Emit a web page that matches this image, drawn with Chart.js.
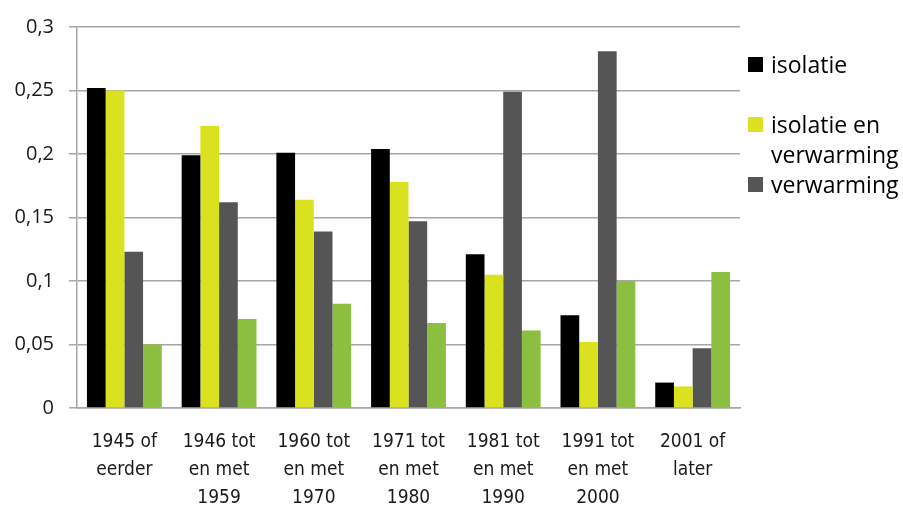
<!DOCTYPE html>
<html>
<head>
<meta charset="utf-8">
<script src="https://cdn.jsdelivr.net/npm/chart.js@4"></script>
<style>
  body { margin: 0; background: #fff; }
  #wrap { position: relative; width: 903px; height: 507px; }
  #legend { position: absolute; left: 748px; top: 0; font-family: "Open Sans", sans-serif; font-size: 23px; color: #000; }
  .item { position: absolute; left: 0; white-space: nowrap; line-height: 30px; }
  .box { position: absolute; left: 0; top: 8px; width: 15px; height: 15px; }
  .txt { position: absolute; left: 23px; top: 0; }
</style>
</head>
<body>
<div id="wrap">
  <canvas id="chart" width="903" height="507"></canvas>
  <div id="legend"></div>
</div>
<script>
// Data
const categories = [
    ['1945 of', 'eerder'],
    ['1946 tot', 'en met', '1959'],
    ['1960 tot', 'en met', '1970'],
    ['1971 tot', 'en met', '1980'],
    ['1981 tot', 'en met', '1990'],
    ['1991 tot', 'en met', '2000'],
    ['2001 of', 'later']
];
const isolatie = [0.252, 0.199, 0.201, 0.204, 0.121, 0.073, 0.020];
const isolatieEnVerwarming = [0.250, 0.222, 0.164, 0.178, 0.105, 0.052, 0.017];
const verwarming = [0.123, 0.162, 0.139, 0.147, 0.249, 0.281, 0.047];
const overig = [0.050, 0.070, 0.082, 0.067, 0.061, 0.100, 0.107];
const yTicks = [0, 0.05, 0.1, 0.15, 0.2, 0.25, 0.3];

const seriesNames = ['isolatie', 'isolatie en verwarming', 'verwarming', ''];
const seriesColors = ['#000000', '#dae21f', '#555555', '#8cbf3f'];
const seriesData = [isolatie, isolatieEnVerwarming, verwarming, overig];

// Legend (only three entries are shown in the original)
const legendRows = [
    { idx: 0, lines: ['isolatie'], top: 49 },
    { idx: 1, lines: ['isolatie en', 'verwarming'], top: 109 },
    { idx: 2, lines: ['verwarming'], top: 169 }
];
const legend = document.getElementById('legend');
legendRows.forEach(r => {
    const el = document.createElement('div');
    el.className = 'item';
    el.style.top = r.top + 'px';
    el.innerHTML = `<span class="box" style="background:${seriesColors[r.idx]}"></span>` +
        `<span class="txt">${r.lines.join('<br>')}</span>`;
    legend.appendChild(el);
});

new Chart(document.getElementById('chart'), {
    type: 'bar',
    data: {
        labels: categories,
        datasets: seriesData.map((d, i) => ({
            label: seriesNames[i],
            data: d,
            backgroundColor: seriesColors[i],
            barPercentage: 1,
            categoryPercentage: 0.79
        }))
    },
    options: {
        responsive: false,
        animation: false,
        layout: { padding: { top: 27, right: 163, left: 0, bottom: 0 } },
        plugins: { legend: { display: false }, tooltip: { enabled: false } },
        scales: {
            x: {
                grid: { display: false },
                border: { color: '#a6a6a6', width: 1.5 },
                ticks: {
                    color: '#1a1a1a',
                    padding: 12,
                    maxRotation: 0,
                    font: { family: '"Liberation Sans Narrow", "DejaVu Sans Condensed", sans-serif', size: 19, lineHeight: 1.47 }
                },
                afterFit: s => { s.height = 99; }
            },
            y: {
                min: 0,
                max: 0.3,
                afterBuildTicks: s => { s.ticks = yTicks.map(v => ({ value: v })); },
                grid: { color: '#a6a6a6', lineWidth: 1.5, tickLength: 8 },
                border: { color: '#a6a6a6', width: 1.5 },
                ticks: {
                    color: '#1a1a1a',
                    padding: 15,
                    font: { family: '"Open Sans", sans-serif', size: 20 },
                    callback: v => String(v).replace('.', ',')
                },
                afterFit: s => { s.width = 77; }
            }
        }
    }
});
</script>
</body>
</html>
